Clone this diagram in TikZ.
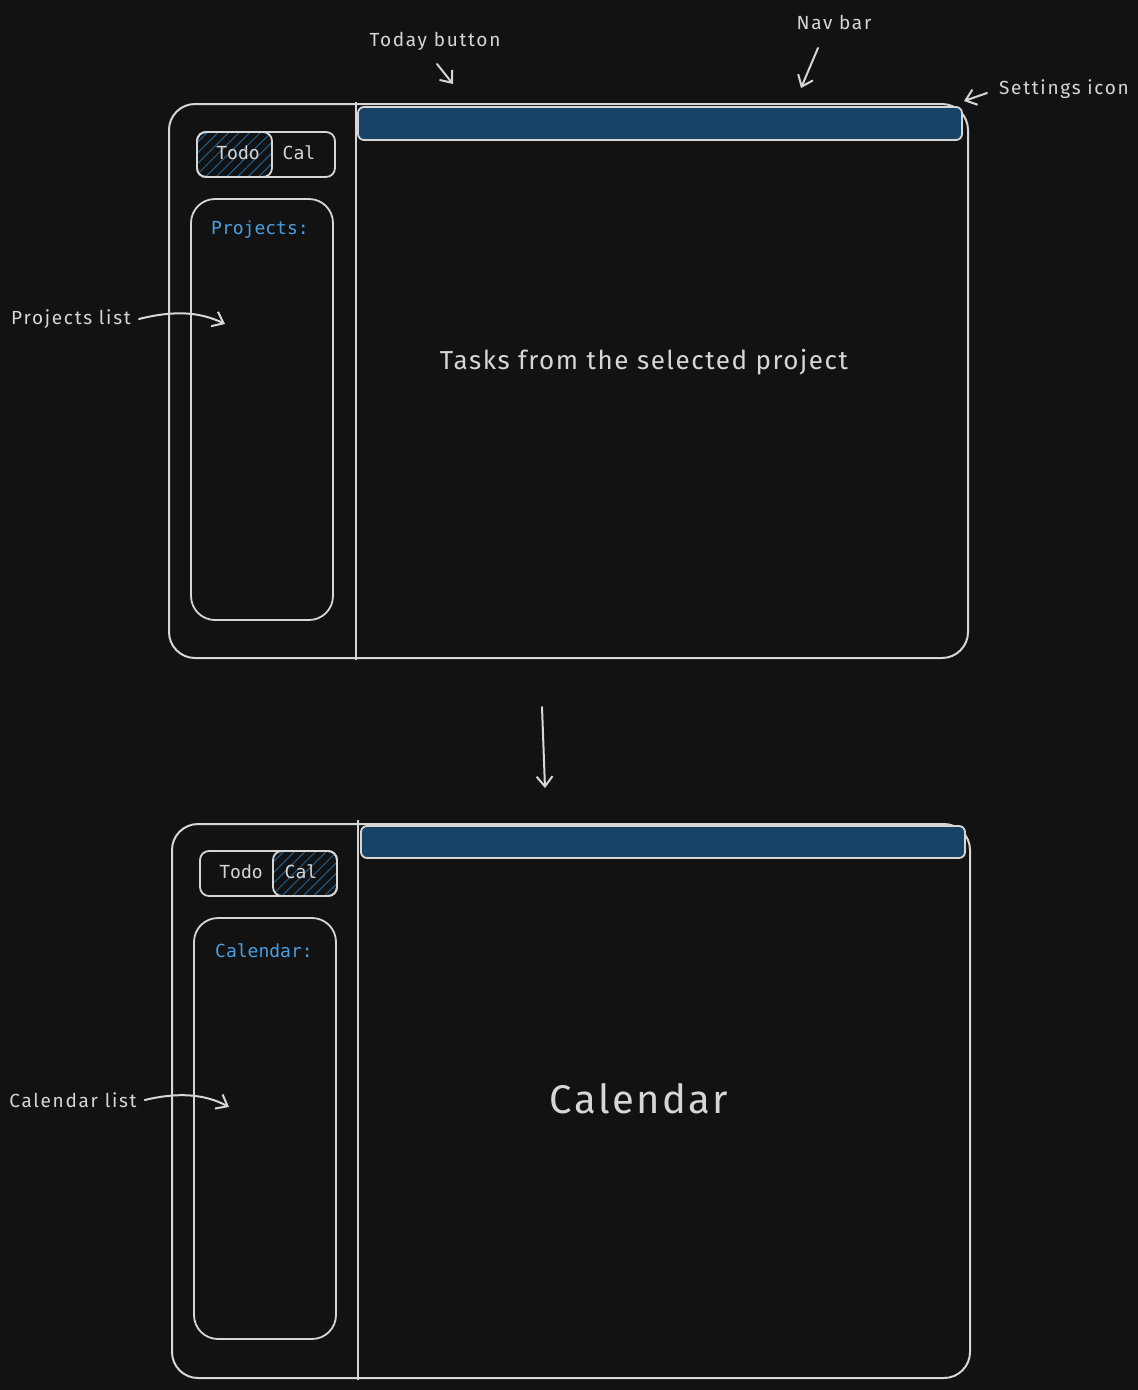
\documentclass[tikz,border=0pt]{standalone}
\usepackage{fontspec}
\setmainfont{Fira Sans}
\newfontfamily\handfont[LetterSpace=9]{Fira Sans}
\newfontfamily\wideface[LetterSpace=6]{Fira Sans}
\newfontfamily\codefont{DejaVu Sans Mono}
\usetikzlibrary{patterns.meta,arrows.meta}
\definecolor{bgdark}{HTML}{121212}
\definecolor{ink}{HTML}{D6D6D6}
\definecolor{navfill}{HTML}{174466}
\definecolor{hatch}{HTML}{1D5F92}
\definecolor{listblue}{HTML}{4A9EE0}
\tikzset{
  frame/.style={draw=ink, line width=2pt, rounded corners=26pt},
  divider/.style={draw=ink, line width=1.8pt},
  navbar/.style={draw=ink, fill=navfill, line width=1.8pt, rounded corners=6pt},
  toggle/.style={draw=ink, line width=1.8pt, rounded corners=9pt},
  picked/.style={draw=ink, line width=1.8pt, rounded corners=9pt,
    pattern={Lines[angle=45,distance=7.5pt,line width=1pt]}, pattern color=hatch},
  panel/.style={draw=ink, line width=1.8pt, rounded corners=24pt},
  codetxt/.style={text=ink, font=\codefont\fontsize{18}{21}\selectfont, inner sep=0pt},
  headtxt/.style={text=listblue, font=\codefont\fontsize{18}{21}\selectfont, inner sep=0pt, anchor=west},
  note/.style={text=ink, font=\handfont\fontsize{19}{23}\selectfont, inner sep=0pt},
  pointer/.style={draw=ink, line width=2pt, line cap=round, -{Straight Barb[length=10pt,width=16pt,line width=2pt]}},
}
\begin{document}
\begin{tikzpicture}[x=1pt,y=-1pt]
\fill[bgdark] (0,0) rectangle (1138,1390);
\useasboundingbox (0,0) rectangle (1138,1390);

% ---------- upper screen: todo view ----------
\draw[frame] (169,104) rectangle (968,658);
\draw[divider] (356,102) -- (356,660);
\draw[navbar] (358,107) rectangle (962,140);

\draw[toggle] (197,132) rectangle (335,177);
\draw[picked] (197,132) rectangle (272,177);
\node[codetxt] (todoA) at (238,153) {Todo};
\node[codetxt] (calA) at (299,153) {Cal};

\draw[panel] (191,199) rectangle (333,620);
\node[headtxt] (projhead) at (211,230) {Projects:};
\coordinate (projlist) at (225,324);

\node[text=ink, font=\wideface\fontsize{26}{31}\selectfont, inner sep=0pt] (tasks) at (644,362) {Tasks from the selected project};

% annotations
\node[note] (todaynote) at (435,41) {Today button};
\node[note] (navnote) at (834,22) {Nav bar};
\node[note] (gearnote) at (1064,89) {Settings icon};
\node[note] (projnote) at (71,319) {Projects list};

\coordinate (todayS) at (437,64);
\coordinate (todayE) at (453,84);
\draw[pointer] (todayS) -- (todayE);
\coordinate (navS) at (818,48);
\coordinate (navE) at (801,88);
\draw[pointer] (navS) -- (navE);
\coordinate (gearS) at (987,93);
\coordinate (gearE) at (964,101);
\draw[pointer] (gearS) -- (gearE);
\draw[pointer] (projnote.east) ++(8,0) .. controls (175,310) and (200,312) .. (projlist);

% transition arrow
\coordinate (downS) at (542,707);
\coordinate (downE) at (545,788);
\draw[pointer] (downS) -- (downE);

% ---------- lower screen: calendar view ----------
\draw[frame] (172,824) rectangle (970,1378);
\draw[divider] (358,820) -- (358,1380);
\draw[navbar] (361,826) rectangle (965,858);

\draw[toggle] (200,851) rectangle (337,896);
\draw[picked] (273,851) rectangle (337,896);
\node[codetxt] (todoB) at (241,872) {Todo};
\node[codetxt] (calB) at (301,872) {Cal};

\draw[panel] (194,918) rectangle (336,1339);
\node[headtxt] (calhead) at (215,951) {Calendar:};
\coordinate (callist) at (229,1107);

\node[text=ink, font=\wideface\fontsize{40}{48}\selectfont, inner sep=0pt] (calbig) at (639,1099) {Calendar};

\node[note] (calnote) at (73,1100) {Calendar list};
\draw[pointer] (calnote.east) ++(8,0) .. controls (178,1092) and (205,1094) .. (callist);
\end{tikzpicture}
\end{document}
